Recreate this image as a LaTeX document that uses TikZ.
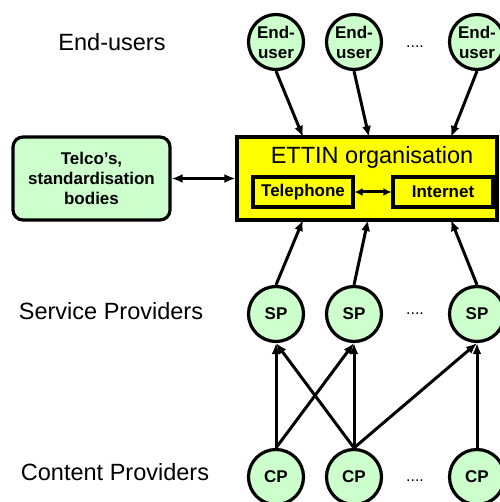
\documentclass[tikz,border=0pt]{standalone}
\usepackage{fontspec}
\setmainfont{Liberation Sans}
\usetikzlibrary{arrows.meta}

\definecolor{zelena}{HTML}{CCFFCC}
\definecolor{zluta}{HTML}{FFFF00}

\tikzset{
    kruh/.style={circle, draw, line width=3.2pt, fill=zelena, minimum size=55pt,
        inner sep=0pt, align=center, font=\fontsize{17}{20}\selectfont\bfseries},
    ramecek/.style={draw, line width=3.2pt, fill=zluta, minimum width=100pt,
        minimum height=30pt, inner sep=0pt, font=\fontsize{17}{20}\selectfont\bfseries},
    popis/.style={font=\fontsize{23.5}{26}\selectfont},
    sipka/.style={line width=3pt, -{Latex[length=11pt,width=9pt]}},
    dvojsipka/.style={line width=3pt, {Latex[length=11pt,width=9pt]}-{Latex[length=11pt,width=9pt]}},
}

\begin{document}
\begin{tikzpicture}[x=1pt, y=-1pt]
        \useasboundingbox (0,0) rectangle (499,502);

        % popisky vlevo
        \node[popis] (lbleu) at (112,42) {End-users};
        \node[popis] (lblsp) at (111,311) {Service Providers};
        \node[popis] (lblcp) at (115,472) {Content Providers};

        % koncoví uživatelé
        \node[kruh] (eu1) at (276,42) {End-\\user};
        \node[kruh] (eu2) at (354,42) {End-\\user};
        \node[kruh] (eu3) at (477,42) {End-\\user};
        \node[font=\fontsize{16}{20}\selectfont] (dots1) at (415,47) {....};

        % organizace ETTIN
        \node[draw, line width=3.2pt, fill=zluta, minimum width=260pt, minimum height=83pt,
            inner sep=0pt] (ettin) at (367,178.5) {};
        \node[popis] (title) at (372,157) {ETTIN organisation};
        \node[ramecek] (tel) at (303,192) {Telephone};
        \node[ramecek] (inet) at (443,192) {Internet};
        \draw[line width=3pt, {Latex[length=8pt,width=8pt]}-{Latex[length=8pt,width=8pt]}] (tel) -- (inet);

        % telco
        \node[draw, line width=3.2pt, fill=zelena, rounded corners=10pt, minimum width=157pt,
            minimum height=83pt, align=center, font=\fontsize{17}{20}\selectfont\bfseries]
            (telco) at (91.5,178.5) {Telco's,\\standardisation\\bodies};
        \draw[dvojsipka] (telco) -- (ettin);

        % vstupy do ETTIN
        \coordinate (in1) at (303,137);
        \coordinate (in2) at (369,137);
        \coordinate (in3) at (451,137);
        \coordinate (out1) at (303,220);
        \coordinate (out2) at (368,220);
        \coordinate (out3) at (451,220);

        \draw[sipka] (eu1.south) -- (in1);
        \draw[sipka] (eu2.south) -- (in2);
        \draw[sipka] (eu3.south) -- (in3);

        % poskytovatelé služeb
        \node[kruh] (sp1) at (276,314) {SP};
        \node[kruh] (sp2) at (354,314) {SP};
        \node[kruh] (sp3) at (477,314) {SP};
        \node[font=\fontsize{16}{20}\selectfont] (dots2) at (415,314) {....};

        \draw[sipka] (sp1.north) -- (out1);
        \draw[sipka] (sp2.north) -- (out2);
        \draw[sipka] (sp3.north) -- (out3);

        % poskytovatelé obsahu
        \node[kruh] (cp1) at (276,477) {CP};
        \node[kruh] (cp2) at (354,477) {CP};
        \node[kruh] (cp3) at (477,477) {CP};
        \node[font=\fontsize{16}{20}\selectfont] (dots3) at (415,481) {....};

        \draw[sipka] (cp1.north) -- (sp1.south);
        \draw[sipka] (cp1.north) -- (sp2.south);
        \draw[sipka] (cp2.north) -- (sp1.south);
        \draw[sipka] (cp2.north) -- (sp2.south);
        \draw[sipka] (cp2.north) -- (sp3.south);
        \draw[sipka] (cp3.north) -- (sp3.south);

    \end{tikzpicture}
\end{document}
